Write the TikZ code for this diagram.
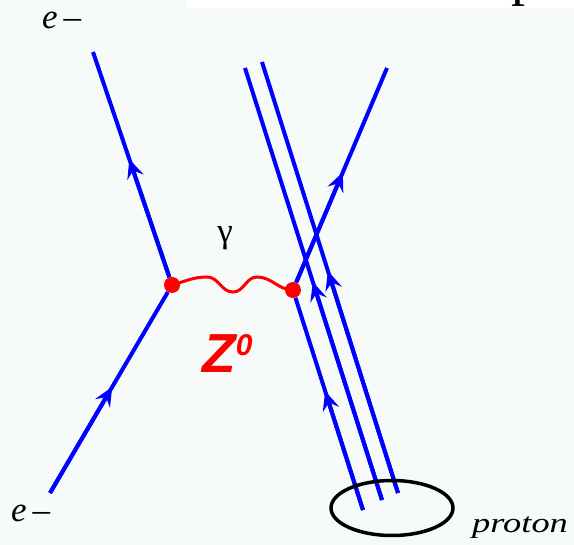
\documentclass[tikz,border=0pt]{standalone}
\usepackage{fontspec}
\setmainfont{Liberation Serif}
\newfontfamily\zfont{Liberation Sans}
\newfontfamily\protonfont[FakeStretch=1.3]{Liberation Serif}
\usetikzlibrary{arrows.meta,shapes.geometric,calc}
\definecolor{bgc}{RGB}{246,251,249}

\begin{document}
\begin{tikzpicture}[x=1pt, y=-1pt, every node/.style={inner sep=0pt},
  fline/.style={blue, line width=4pt},
  fhead/.style={blue, line width=4pt, -{Stealth[length=19pt,width=17pt,inset=7pt]}},
  vtx/.style={circle, fill=red, minimum size=16pt},
  photon/.style={red, line width=3pt},
  lbl/.style={font=\fontsize{35}{35}\selectfont}]
\useasboundingbox (0,0) rectangle (574,545);
\fill[bgc] (0,0) rectangle (574,545);
\fill[white] (187,0) rectangle (574,8);
\begin{scope}
\clip (187,0) rectangle (574,8);
\node[anchor=base west, font=\fontsize{56}{56}\selectfont] (ptop) at (511,-5) {p};
\end{scope}
% vertices and line ends
\node[vtx] (vte) at (172,285) {};
\node[vtx] (vtq) at (293,290) {};
\coordinate (ein) at (50,493);
\coordinate (eout) at (93,52);
\coordinate (qa) at (363,510);
\coordinate (qb) at (382,500);
\coordinate (qc) at (398,493);
\coordinate (qbt) at (245,68);
\coordinate (qct) at (262,62);
\coordinate (qout) at (387,68);
\draw[fline] (ein) -- (vte); \draw[fhead] (ein) -- ($(ein)!0.51!(vte)$);
\draw[fline] (vte) -- (eout); \draw[fhead] (vte) -- ($(vte)!0.54!(eout)$);
\draw[fline] (qa) -- (vtq); \draw[fhead] (qa) -- ($(qa)!0.54!(vtq)$);
\draw[fline] (vtq) -- (qout); \draw[fhead] (vtq) -- ($(vtq)!0.53!(qout)$);
\draw[fline] (qb) -- (qbt); \draw[fhead] (qb) -- ($(qb)!0.505!(qbt)$);
\draw[fline] (qc) -- (qct); \draw[fhead] (qc) -- ($(qc)!0.515!(qct)$);
\draw[photon] (vte.center) to[out=15,in=180] (207,277) to[out=0,in=180] (233,292) to[out=0,in=180] (257,277) to[out=0,in=180] (vtq.center);
\node[draw, ellipse, line width=3.5pt, minimum width=122pt, minimum height=55pt] (proton) at (392,508) {};
% labels
\node[lbl, anchor=base west] (etop) at (42,29) {\itshape e\,–};
\node[lbl, anchor=base west] (ebot) at (11,522) {\itshape e\,–};
\node[lbl, anchor=base] (gam) at (225,243) {γ};
\node[anchor=base west, red, font=\zfont\bfseries\itshape\fontsize{55}{55}\selectfont] (zlab) at (202,373) {Z\raisebox{17pt}{\fontsize{30}{30}\selectfont 0}};
\node[anchor=base west, font=\protonfont\itshape\fontsize{28}{28}\selectfont] (plab) at (472,533) {proton};
\end{tikzpicture}
\end{document}
